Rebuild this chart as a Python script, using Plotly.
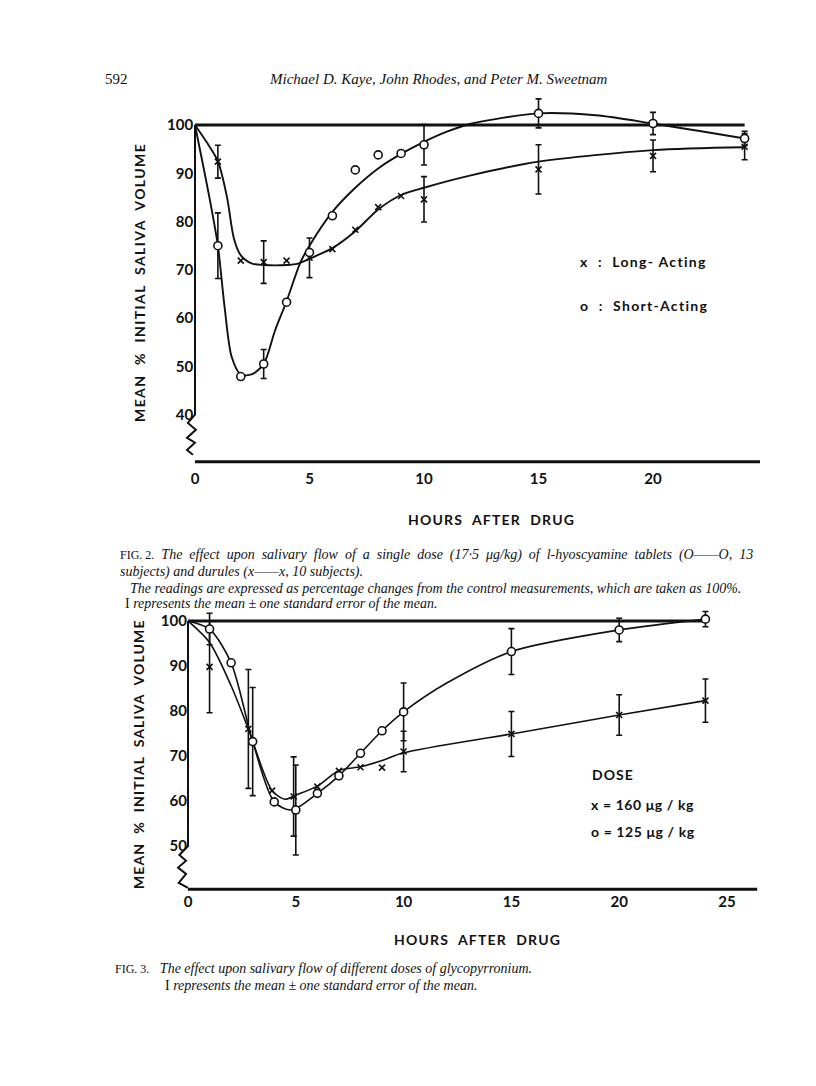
import plotly.graph_objects as go

# ---------------- Fig. 2 : l-hyoscyamine, tablets (o) vs durules (x) ----------------
f2_hours = [1, 2, 3, 4, 5, 6, 7, 8, 9, 10, 15, 20, 24]
f2_long = [92.4, 71.9, 71.6, 71.9, 72.5, 74.3, 78.3, 83.0, 85.3, 84.6, 90.8, 93.6, 95.5]
f2_long_se = [3.4, 0, 4.4, 0, 4.1, 0, 0, 0, 0, 4.7, 5.1, 3.3, 2.7]
f2_short = [75.0, 47.9, 50.5, 63.3, 73.6, 81.2, 90.7, 93.8, 94.1, 95.9, 102.4, 100.3, 97.2]
f2_short_se = [6.8, 0, 3.0, 0, 0, 0, 0, 0, 0, 4.2, 3.0, 2.3, 1.5]

# hand drawn curves
f2_long_curve_x = [0, 0.5, 1, 1.4, 1.7, 2, 2.5, 3, 4, 4.5, 5, 6, 7, 8, 9, 10, 12, 15, 20, 24]
f2_long_curve_y = [100, 96.5, 92.5, 85, 76.5, 73, 71.3, 71, 71, 71.3, 72.3, 74.5, 78, 82.5, 85.5,
                   87, 89.5, 92.4, 94.8, 95.4]
f2_short_curve_x = [0, 0.65, 1, 1.3, 1.6, 2, 2.5, 3, 3.5, 4, 4.6, 5, 6, 7, 8, 9, 10, 11, 12,
                    15, 17.5, 20, 24]
f2_short_curve_y = [100, 84.5, 75, 62, 52, 48.3, 48.4, 50.5, 57.5, 63.5, 71.5, 75, 82, 87, 91,
                    94, 96.5, 98.6, 100.2, 102.4, 102, 100.3, 97.2]

f2_yticks = [40, 50, 60, 70, 80, 90, 100]
f2_xticks = [0, 5, 10, 15, 20]

# ---------------- Fig. 3 : glycopyrronium, 160 (x) vs 125 (o) ug/kg ----------------
f3_x_hours = [1, 2.8, 3.9, 4.9, 6, 7, 8, 9, 10, 15, 20, 24]
f3_160 = [89.8, 76, 62.3, 61, 63.2, 66.7, 67.5, 67.4, 71, 74.9, 79.1, 82.3]
f3_160_se = [10.2, 13.2, 0, 8.8, 0, 0, 0, 0, 4.5, 5.0, 4.5, 4.8]
f3_o_hours = [1, 2, 3, 4, 5, 6, 7, 8, 9, 10, 15, 20, 24]
f3_125 = [98.2, 90.7, 73.2, 59.8, 58, 61.7, 65.6, 70.6, 75.6, 79.8, 93.2, 98, 100.4]
f3_125_se = [3.5, 0, 12, 0, 10, 0, 0, 0, 0, 6.4, 5.1, 2.6, 1.7]

f3_160_curve_x = [0, 1, 2, 2.8, 3.9, 4.5, 5, 6, 7, 8, 9, 10, 15, 20, 24]
f3_160_curve_y = [100, 95.2, 85.6, 76, 62.3, 60.4, 61.3, 63.3, 66.8, 67.6, 69, 70.7, 74.9, 79.1, 82.3]
f3_125_curve_x = [0, 1, 2, 3, 4, 4.8, 6, 7, 8, 9, 10, 12, 15, 20, 24]
f3_125_curve_y = [100, 98.2, 90.7, 73.2, 59.8, 58, 61.7, 65.6, 70.6, 75.6, 79.8, 86.2, 93.2, 98, 100.4]

f3_yticks = [50, 60, 70, 80, 90, 100]
f3_xticks = [0, 5, 10, 15, 20, 25]

# axis with the broken-scale zigzag (x offset, y)
f2_axis_x = [0, 0, -0.31, 0.04, -0.35, 0, -0.35, -0.09]
f2_axis_y = [100, 40, 38.3, 36.9, 35.2, 34.2, 32.7, 31.7]
f3_axis_x = [0, 0, -0.4, -0.09, -0.46, -0.09, -0.43, 0]
f3_axis_y = [100, 50, 48, 46.7, 45.2, 43.8, 41.8, 40.7]

CHART_FONT = "Lato"
SERIF = "Liberation Serif"
INK = "#111"


def with_se(xs, ys, se):
    keep = [i for i, s in enumerate(se) if s]
    return [xs[i] for i in keep], [ys[i] for i in keep], [se[i] for i in keep]


def add_panel(fig, xa, ya, curves, marks, axis_xy, base_end, xline):
    # reference line at 100 %
    fig.add_trace(go.Scatter(x=[0, base_end], y=[100, 100], mode="lines",
                             line=dict(color=INK, width=3), xaxis=xa, yaxis=ya))
    # y axis with break
    fig.add_trace(go.Scatter(x=axis_xy[0], y=axis_xy[1], mode="lines",
                             line=dict(color=INK, width=2), xaxis=xa, yaxis=ya))
    # x axis
    fig.add_trace(go.Scatter(x=xline[0], y=xline[1], mode="lines",
                             line=dict(color=INK, width=3), xaxis=xa, yaxis=ya))
    for cx, cy, w in curves:
        fig.add_trace(go.Scatter(x=cx, y=cy, mode="lines", line_shape="spline",
                                 line=dict(color=INK, width=w, smoothing=0.8),
                                 xaxis=xa, yaxis=ya))
    for xs, ys, se, sym, size, fill in marks:
        ex, ey, es = with_se(xs, ys, se)
        fig.add_trace(go.Scatter(x=ex, y=ey, mode="markers", marker=dict(size=0, opacity=0),
                                 error_y=dict(type="data", array=es, color=INK,
                                              thickness=1.6, width=3),
                                 xaxis=xa, yaxis=ya))
        fig.add_trace(go.Scatter(x=xs, y=ys, mode="markers",
                                 marker=dict(symbol=sym, size=size, color=fill,
                                             line=dict(color=INK, width=1.6)),
                                 xaxis=xa, yaxis=ya))


fig = go.Figure()

add_panel(fig, "x", "y",
          curves=[(f2_long_curve_x, f2_long_curve_y, 1.9), (f2_short_curve_x, f2_short_curve_y, 1.9)],
          marks=[(f2_hours, f2_long, f2_long_se, "x-thin-open", 6, INK),
                 (f2_hours, f2_short, f2_short_se, "circle", 8, "white")],
          axis_xy=(f2_axis_x, f2_axis_y), base_end=24,
          xline=([0, 24.67], [30.25, 30.25]))

add_panel(fig, "x2", "y2",
          curves=[(f3_160_curve_x, f3_160_curve_y, 1.6), (f3_125_curve_x, f3_125_curve_y, 1.6)],
          marks=[(f3_x_hours, f3_160, f3_160_se, "x-thin-open", 6, INK),
                 (f3_o_hours, f3_125, f3_125_se, "circle", 8, "white")],
          axis_xy=(f3_axis_x, f3_axis_y), base_end=24,
          xline=([0, 26.4], [40.4, 40.4]))

tickfont = dict(family=CHART_FONT, size=15, color=INK)
common = dict(showgrid=False, zeroline=False, showline=False, ticks="", tickfont=tickfont)

fig.update_layout(
    width=816, height=1086,
    margin=dict(l=0, r=0, t=0, b=0),
    paper_bgcolor="white", plot_bgcolor="white",
    showlegend=False,
    xaxis=dict(domain=[0.2221, 0.9378], range=[-0.6, 24.9], tickvals=f2_xticks,
               ticktext=[f"<b>{v}</b>" for v in f2_xticks], anchor="y", **common),
    yaxis=dict(domain=[0.5692, 0.9125], range=[29, 106.2], tickvals=f2_yticks,
               ticktext=[f"<b>{v}</b>" for v in f2_yticks], anchor="x",
               ticklabelstandoff=-13, **common),
    xaxis2=dict(domain=[0.2119, 0.9332], range=[-0.7, 26.6], tickvals=f3_xticks,
                ticktext=[f"<b>{v}</b>" for v in f3_xticks], anchor="y2",
                ticklabelstandoff=-5, **common),
    yaxis2=dict(domain=[0.1754, 0.4477], range=[39, 104.7], tickvals=f3_yticks,
                ticktext=[f"<b>{v}</b>" for v in f3_yticks], anchor="x2",
                ticklabelstandoff=-15, **common),
)


def px(x, y):
    return x / 816, 1 - y / 1086


def note(text, x, y, size=14, family=CHART_FONT, xanchor="left", angle=0):
    ax, ay = px(x, y)
    fig.add_annotation(text=text, x=ax, y=ay, xref="paper", yref="paper", showarrow=False,
                       xanchor=xanchor, yanchor="middle", textangle=angle,
                       font=dict(family=family, size=size, color=INK))


def spaced(text, gap=1.5):
    return f"<b><span style='letter-spacing:{gap}px'>{text}</span></b>"


NB = "\u00a0"

# page header
note("592", 103, 79, size=15, family=SERIF)
note("<i>Michael D. Kaye, John Rhodes, and Peter M. Sweetnam</i>", 438, 79, size=15,
     family=SERIF, xanchor="center")

# Fig. 2 labels
note(spaced("MEAN  %  INITIAL  SALIVA  VOLUME", 1.4), 140, 283, size=14, xanchor="center", angle=-90)
note(spaced("HOURS  AFTER  DRUG", 1.2), 491, 519, size=14, xanchor="center")
note(spaced("x  :  Long- Acting", 1.3), 578, 262, size=14)
note(spaced("o  :  Short-Acting", 1.3), 578, 305, size=14)

cap2 = ("<span style='font-size:12px'>FIG. 2.</span>" + NB * 2 +
        "<i>The" + NB * 2 + "effect" + NB * 2 + "upon" + NB * 2 + "salivary" + NB * 2 + "flow" + NB * 2
        + "of" + NB * 2 + "a" + NB * 2 + "single" + NB * 2 + "dose" + NB * 2 + "(17·5" + NB * 2
        + "μg/kg)" + NB * 2 + "of" + NB * 2 + "l-hyoscyamine" + NB * 2 + "tablets" + NB * 2
        + "(O——O," + NB * 2 + "13</i>")
note(cap2, 118, 555, family=SERIF)
note("<i>subjects) and durules (x——x, 10 subjects).</i>", 118, 572, family=SERIF)
note("<i>The readings are expressed as percentage changes from the control measurements, "
     "which are taken as 100%.</i>", 128, 588, family=SERIF)
note("I <i>represents the mean ± one standard error of the mean.</i>", 123, 603, family=SERIF)

# Fig. 3 labels
note(spaced("MEAN  %  INITIAL  SALIVA  VOLUME", 1.1), 138, 754, size=14, xanchor="center", angle=-90)
note(spaced("HOURS  AFTER  DRUG", 1.2), 477, 939, size=14, xanchor="center")
note(spaced("DOSE", 1.0), 590, 774, size=14)
note(spaced("x = 160 μg / kg", 0.6), 589, 804, size=14)
note(spaced("o = 125 μg / kg", 0.6), 589, 831, size=14)

note("<span style='font-size:12px'>FIG. 3.</span>" + NB * 3 +
     "<i>The effect upon salivary flow of different doses of glycopyrronium.</i>",
     113, 968, family=SERIF)
note("I <i>represents the mean ± one standard error of the mean.</i>", 163, 985, family=SERIF)

fig.write_html("out.html", post_script="document.body.style.margin='0';",
               config={"displayModeBar": False})
